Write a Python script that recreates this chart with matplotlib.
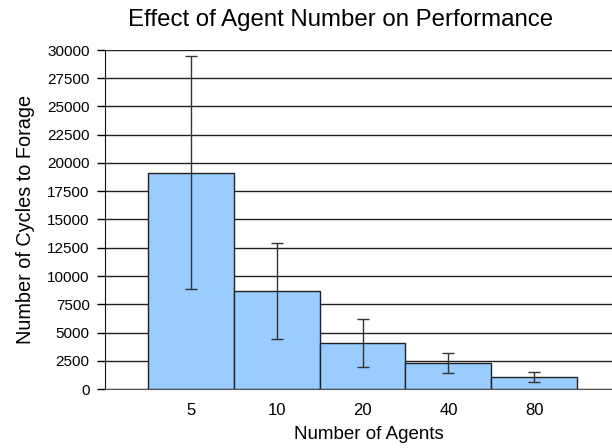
import matplotlib
matplotlib.use("Agg")
import matplotlib.pyplot as plt

agents = ["5", "10", "20", "40", "80"]
cycles = [19150, 8700, 4070, 2300, 1040]
errors = [10280, 4260, 2100, 900, 460]

plt.rcParams['font.family'] = ['Liberation Sans', 'DejaVu Sans']

fig = plt.figure(figsize=(6.12, 4.48), dpi=100)
# plot area runs a little past the right edge of the picture, as in the original
ax = fig.add_axes([105 / 612, 59 / 448, 528 / 612, 339 / 448])

pos = list(range(len(agents)))
ax.bar(pos, cycles, width=1.0, color='#99ccff', edgecolor='#222222',
       linewidth=1.0, zorder=2)
ax.errorbar(pos, cycles, yerr=errors, fmt='none', ecolor='#333333',
            elinewidth=1.0, capsize=4, capthick=1.0, zorder=3)

ax.set_xlim(-1.0, 5.15)
ax.set_ylim(0, 30000)
ax.set_yticks(range(0, 30001, 2500))
ax.set_xticks(pos)
ax.set_xticklabels(agents)
ax.yaxis.grid(True, color='#222222', linewidth=1.0, zorder=0)
ax.set_axisbelow(True)

for side in ['top', 'right']:
    ax.spines[side].set_visible(False)
ax.spines['left'].set_color('#111111')
ax.spines['bottom'].set_color('#555555')
ax.tick_params(axis='y', length=6, width=1.0, labelsize=11, pad=5)
ax.tick_params(axis='x', length=0, labelsize=12, pad=10)

ax.set_xlabel('Number of Agents', fontsize=13.5, labelpad=6)
ax.set_ylabel('Number of Cycles to Forage', fontsize=14.3, labelpad=9)
fig.suptitle('Effect of Agent Number on Performance', fontsize=17.3, x=0.556, y=0.98)

fig.savefig('out.png', dpi=100)
